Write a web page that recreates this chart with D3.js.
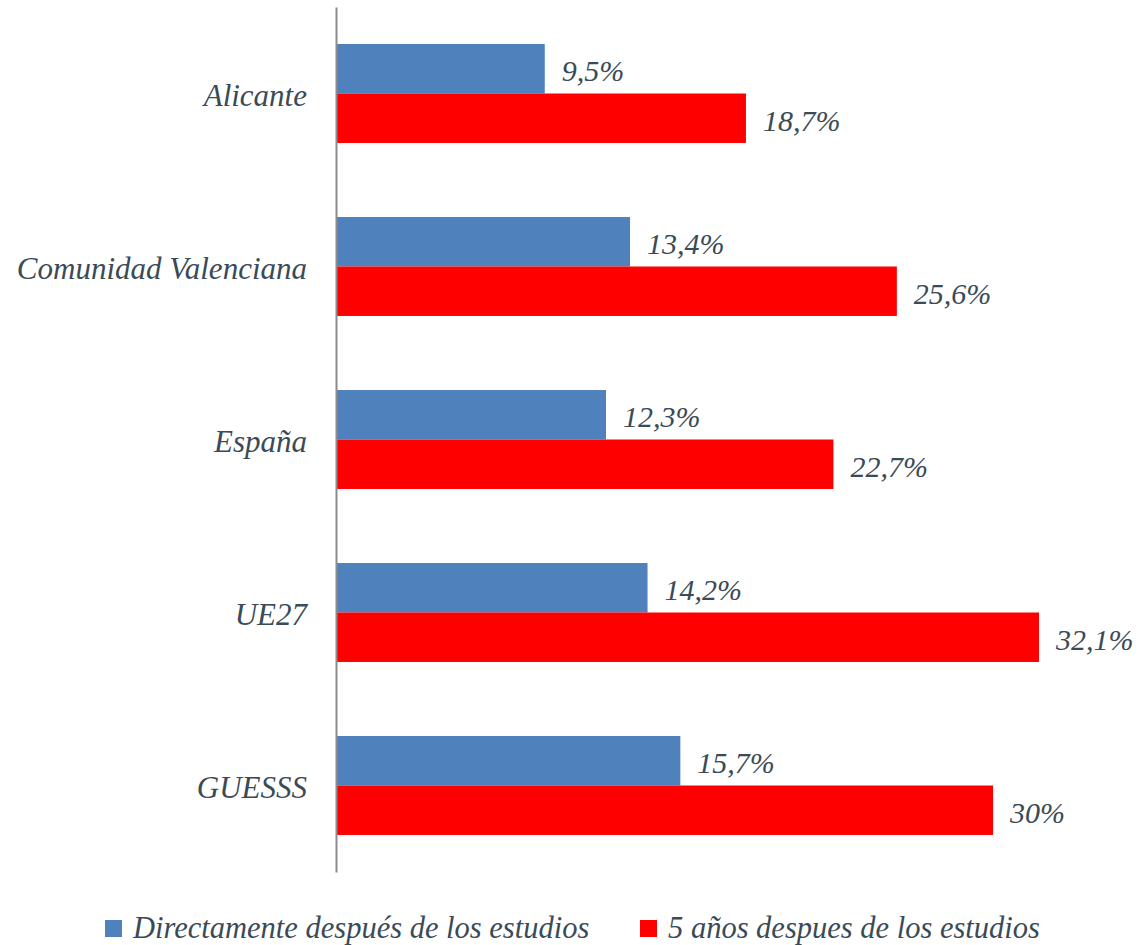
<!DOCTYPE html>
<html>
<head>
<meta charset="utf-8">
<script src="https://cdn.jsdelivr.net/npm/d3@7/dist/d3.min.js"></script>
<style>
  body { margin: 0; background: #fff; }
  svg text { font-family: "Liberation Serif", "DejaVu Serif", serif; font-style: italic; fill: #3a4b57; }
  .axis path { stroke: #8c8c8c; stroke-width: 2; }
</style>
</head>
<body>
<svg id="chart" width="1142" height="945"></svg>
<script>
// data
var categories = ["Alicante", "Comunidad Valenciana", "España", "UE27", "GUESSS"];
var seriesNames = ["Directamente después de los estudios", "5 años despues de los estudios"];
var directo = [9.5, 13.4, 12.3, 14.2, 15.7];
var cincoAnos = [18.7, 25.6, 22.7, 32.1, 30];
var valueLabels = [
    ["9,5%", "13,4%", "12,3%", "14,2%", "15,7%"],
    ["18,7%", "25,6%", "22,7%", "32,1%", "30%"]
];
var colors = ["#4f81bd", "#ff0000"];

var svg = d3.select("#chart");

var x = d3.scaleLinear().domain([0, 32.1]).range([337, 1039]);
var y = d3.scaleBand().domain(categories).range([7, 872])
    .paddingInner(0.428).paddingOuter(0.214);
var ySeries = d3.scaleBand().domain([0, 1]).range([0, y.bandwidth()]);

var rows = categories.map(function (c, i) {
    return { name: c, values: [directo[i], cincoAnos[i]], labels: [valueLabels[0][i], valueLabels[1][i]] };
});

var groups = svg.selectAll(".group")
    .data(rows)
    .enter()
    .append("g")
    .attr("class", "group")
    .attr("transform", function (d) { return "translate(0," + y(d.name) + ")"; });

groups.selectAll("rect")
    .data(function (d) { return d.values.map(function (v, k) { return { v: v, k: k, label: d.labels[k] }; }); })
    .enter()
    .append("rect")
    .attr("x", x(0))
    .attr("y", function (d) { return ySeries(d.k); })
    .attr("width", function (d) { return x(d.v) - x(0); })
    .attr("height", ySeries.bandwidth())
    .attr("fill", function (d) { return colors[d.k]; });

groups.selectAll(".val")
    .data(function (d) { return d.values.map(function (v, k) { return { v: v, k: k, label: d.labels[k] }; }); })
    .enter()
    .append("text")
    .attr("class", "val")
    .attr("x", function (d) { return x(d.v) + 17; })
    .attr("y", function (d) { return ySeries(d.k) + ySeries.bandwidth() / 2 + 2; })
    .attr("dy", "0.35em")
    .attr("font-size", 30)
    .text(function (d) { return d.label; });

var axis = svg.append("g")
    .attr("class", "axis")
    .attr("transform", "translate(336,0)")
    .call(d3.axisLeft(y).tickSize(0).tickPadding(29).tickSizeOuter(0));
axis.selectAll("text")
    .attr("font-size", 31)
    .attr("dy", "0.4em")
    .attr("font-family", null);

// legend
var legendX = [105, 640];
var legend = svg.selectAll(".legend")
    .data(seriesNames)
    .enter()
    .append("g")
    .attr("class", "legend")
    .attr("transform", function (d, i) { return "translate(" + legendX[i] + ",918)"; });
legend.append("rect")
    .attr("y", 2)
    .attr("width", 17).attr("height", 17)
    .attr("fill", function (d, i) { return colors[i]; });
legend.append("text")
    .attr("x", 28).attr("y", 10).attr("dy", "0.33em")
    .attr("font-size", 30.5)
    .text(function (d) { return d; });
</script>
</body>
</html>
